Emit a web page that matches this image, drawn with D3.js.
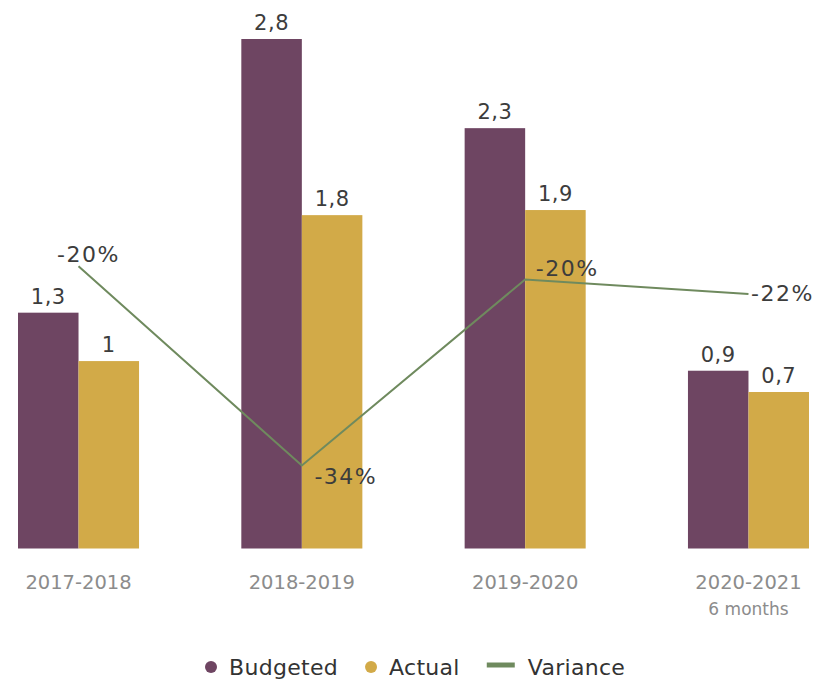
<!DOCTYPE html>
<html>
<head>
<meta charset="utf-8">
<script src="https://cdn.jsdelivr.net/npm/d3@7"></script>
<style>
  html, body { margin: 0; padding: 0; background: #ffffff; }
  svg { display: block; }
  text { font-family: "DejaVu Sans", sans-serif; }
</style>
</head>
<body>
<svg id="chart" width="814" height="680"></svg>
<script>
// ---- data ----
const categories = ["2017-2018", "2018-2019", "2019-2020", "2020-2021"];
const categorySubLabels = ["", "", "", "6 months"];
const budgeted = [1.296, 2.8, 2.31, 0.977];
const actual = [1.03, 1.832, 1.86, 0.86];
const budgetedLabels = ["1,3", "2,8", "2,3", "0,9"];
const actualLabels = ["1", "1,8", "1,9", "0,7"];
const variance = [-0.19, -0.34, -0.20, -0.211];
const varianceLabels = ["-20%", "-34%", "-20%", "-22%"];
const seriesNames = ["Budgeted", "Actual", "Variance"];

// ---- style ----
const colors = { Budgeted: "#6e4562", Actual: "#d2aa48", Variance: "#6f8a5e" };
const varianceLabelOffsets = [[10, -12], [44, 11], [42, -11], [34, -1]];

const svg = d3.select("#chart");
const baseline = 548.5;

const x0 = d3.scaleBand().domain(categories).range([18, 809]).paddingInner(0.458).paddingOuter(0);
const x1 = d3.scaleBand().domain(["Budgeted", "Actual"]).range([0, x0.bandwidth()]).padding(0);
const y = d3.scaleLinear().domain([0, 2.8]).range([baseline, 39]);
const y2 = d3.scaleLinear().domain([-0.40, 0]).range([545.2, 13.8]);

const rows = categories.map((c, i) => ({
  cat: c, i,
  vals: [
    { key: "Budgeted", v: budgeted[i], label: budgetedLabels[i] },
    { key: "Actual", v: actual[i], label: actualLabels[i] }
  ]
}));

const groups = svg.append("g").selectAll("g").data(rows).join("g")
  .attr("transform", d => `translate(${x0(d.cat)},0)`);

groups.selectAll("rect").data(d => d.vals).join("rect")
  .attr("x", d => x1(d.key))
  .attr("y", d => y(d.v))
  .attr("width", x1.bandwidth())
  .attr("height", d => y(0) - y(d.v))
  .attr("fill", d => colors[d.key]);

groups.selectAll("text.val").data(d => d.vals).join("text")
  .attr("class", "val")
  .attr("x", d => x1(d.key) + x1.bandwidth() / 2)
  .attr("y", d => y(d.v) - 9)
  .attr("text-anchor", "middle")
  .attr("font-size", 21)
  .attr("letter-spacing", 0.5)
  .attr("fill", "#3c3c3c")
  .text(d => d.label);

// category axis labels
const axis = d3.axisBottom(x0).tickSize(0).tickPadding(0);
const axG = svg.append("g").attr("transform", `translate(0,${baseline})`).call(axis);
axG.select(".domain").remove();
axG.selectAll(".tick text")
  .attr("y", 34)
  .attr("dy", "0.35em")
  .attr("font-size", 19.5)
  .attr("font-family", "DejaVu Sans, sans-serif")
  .attr("fill", "#8c8c8c");
axG.selectAll(".tick").append("text")
  .attr("y", 61)
  .attr("dy", "0.35em")
  .attr("text-anchor", "middle")
  .attr("font-size", 17)
  .attr("fill", "#8c8c8c")
  .text((d, i) => categorySubLabels[i]);

// variance line
const cx = c => x0(c) + x0.bandwidth() / 2;
const lineGen = d3.line().x((d, i) => cx(categories[i])).y(d => y2(d));
svg.append("path")
  .datum(variance)
  .attr("d", lineGen)
  .attr("fill", "none")
  .attr("stroke", colors.Variance)
  .attr("stroke-width", 2);

svg.append("g").selectAll("text").data(variance).join("text")
  .attr("x", (d, i) => cx(categories[i]) + varianceLabelOffsets[i][0])
  .attr("y", (d, i) => y2(d) + varianceLabelOffsets[i][1])
  .attr("dy", "0.35em")
  .attr("text-anchor", "middle")
  .attr("font-size", 22)
  .attr("letter-spacing", 1.5)
  .attr("fill", "#3c3c3c")
  .text((d, i) => varianceLabels[i]);

// legend
const legend = svg.append("g").attr("transform", "translate(205,0)");
let lx = 0;
const ly = 667;
seriesNames.forEach((name, i) => {
  const g = legend.append("g").attr("transform", `translate(${lx},0)`);
  let tx;
  if (name === "Variance") {
    g.append("line").attr("x1", 0).attr("x2", 28).attr("y1", ly - 2).attr("y2", ly - 2)
      .attr("stroke", colors[name]).attr("stroke-width", 5);
    tx = 41;
  } else {
    g.append("circle").attr("cx", 6).attr("cy", ly).attr("r", 6).attr("fill", colors[name]);
    tx = 24;
  }
  const t = g.append("text").attr("x", tx).attr("y", ly).attr("dy", "0.35em")
    .attr("font-size", 22).attr("letter-spacing", 0.3).attr("fill", "#333333").text(name);
  lx += tx + t.node().getComputedTextLength() + 27;
});
</script>
</body>
</html>
